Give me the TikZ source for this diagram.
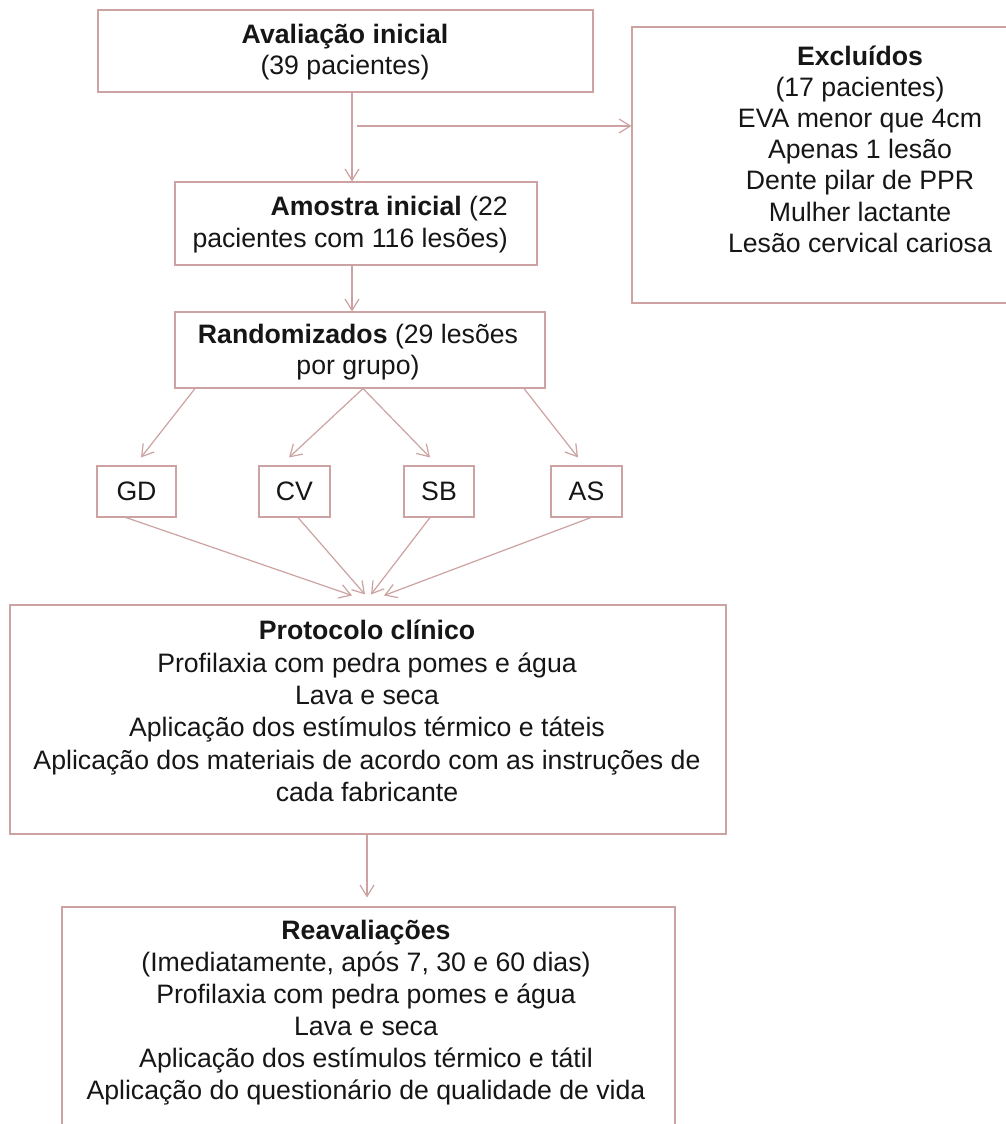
\documentclass[tikz,border=0pt]{standalone}
\usepackage{fontspec}
\setmainfont{Liberation Sans}
\usetikzlibrary{arrows.meta,calc}
\definecolor{linec}{RGB}{205,162,162}
\definecolor{txtc}{RGB}{22,22,22}
\begin{document}
\begin{tikzpicture}[x=0.75pt,y=-0.75pt,
  box/.style 2 args={draw=linec,line width=0.8pt,inner sep=0pt,minimum width=#1,minimum height=#2},
  txt/.style={font=\fontsize{20pt}{23.8pt}\selectfont,text=txtc,align=center,inner sep=0pt},
  arr/.style={draw=linec,line width=0.9pt,-{Straight Barb[length=8.5pt,width=10.5pt]}}]
\useasboundingbox (0,0) rectangle (1006,1124);
\fill[white] (0,0) rectangle (1006,1124);
\clip (0,0) rectangle (1006,1124);

% boxes
\node[box={371.25pt}{61.5pt}] (aval) at (345.5,51) {};
\node[txt] (avalt) at (345,52) {\textbf{Avaliação inicial}\\(39 pacientes)};

\node[box={271.5pt}{62.25pt}] (amos) at (356,223.5) {};
\node[txt,align=right,anchor=east] (amost) at (508,224.5) {\textbf{Amostra inicial} (22\\pacientes com 116 lesões)};

\node[box={277.5pt}{57pt}] (rand) at (360,350) {};
\node[txt] (randt) at (358,352) {\textbf{Randomizados} (29 lesões\\por grupo)};

\node[box={343.5pt}{207pt}] (excl) at (861,165) {};
\node[txt,font=\fontsize{20pt}{23.4pt}\selectfont] (exclt) at (860,149) {\textbf{Excluídos}\\(17 pacientes)\\EVA menor que 4cm\\Apenas 1 lesão\\Dente pilar de PPR\\Mulher lactante\\Lesão cervical cariosa};

\node[box={59.25pt}{38.25pt},txt] (gd) at (136.5,491.5) {GD};
\node[box={53.25pt}{38.25pt},txt] (cv) at (294.5,491.5) {CV};
\node[box={52.5pt}{38.25pt},txt] (sb) at (439,491.5) {SB};
\node[box={53.25pt}{38.25pt},txt] (as) at (586.5,491.5) {AS};

\node[box={537pt}{171.75pt}] (prot) at (368,719.5) {};
\node[txt,font=\fontsize{20pt}{24.3pt}\selectfont] (prott) at (367,711) {\textbf{Protocolo clínico}\\Profilaxia com pedra pomes e água\\Lava e seca\\Aplicação dos estímulos térmico e táteis\\Aplicação dos materiais de acordo com as instruções de\\cada fabricante};

\node[box={459.75pt}{189.75pt}] (reav) at (368.5,1033.5) {};
\node[txt,font=\fontsize{20pt}{24pt}\selectfont] (reavt) at (366,1013) {\textbf{Reavaliações}\\(Imediatamente, após 7, 30 e 60 dias)\\Profilaxia com pedra pomes e água\\Lava e seca\\Aplicação dos estímulos térmico e tátil\\Aplicação do questionário de qualidade de vida};

% connectors
\draw[arr] ($(aval.south)+(6.5,0)$) -- ($(amos.north)+(-4,0)$);
\coordinate (br) at (357,126);
\draw[arr] (br) -- (br -| excl.west);
\draw[arr] ($(amos.south)+(-4,0)$) -- ($(rand.north)+(-8,0)$);

\draw[arr] ($(rand.south)+(-165,0)$) -- ($(gd.north)+(4.5,-8)$);
\draw[arr] ($(rand.south)+(3,0)$) -- ($(cv.north)+(-5.5,-8)$);
\draw[arr] ($(rand.south)+(3,0)$) -- ($(sb.north)+(-9,-8)$);
\draw[arr] ($(rand.south)+(164,0)$) -- ($(as.north)+(-8.5,-8)$);

\draw[arr] ($(gd.south)+(-10.5,0)$) -- ($(prot.north)+(-16,-9)$);
\draw[arr] ($(cv.south)+(3.5,0)$) -- ($(prot.north)+(-3,-10)$);
\draw[arr] ($(sb.south)+(-9,0)$) -- ($(prot.north)+(3,-10)$);
\draw[arr] ($(as.south)+(4.5,0)$) -- ($(prot.north)+(16,-9)$);

\draw[arr] ($(prot.south)+(-1,0)$) -- ($(reav.north)+(-1.5,-9)$);
\end{tikzpicture}
\end{document}
